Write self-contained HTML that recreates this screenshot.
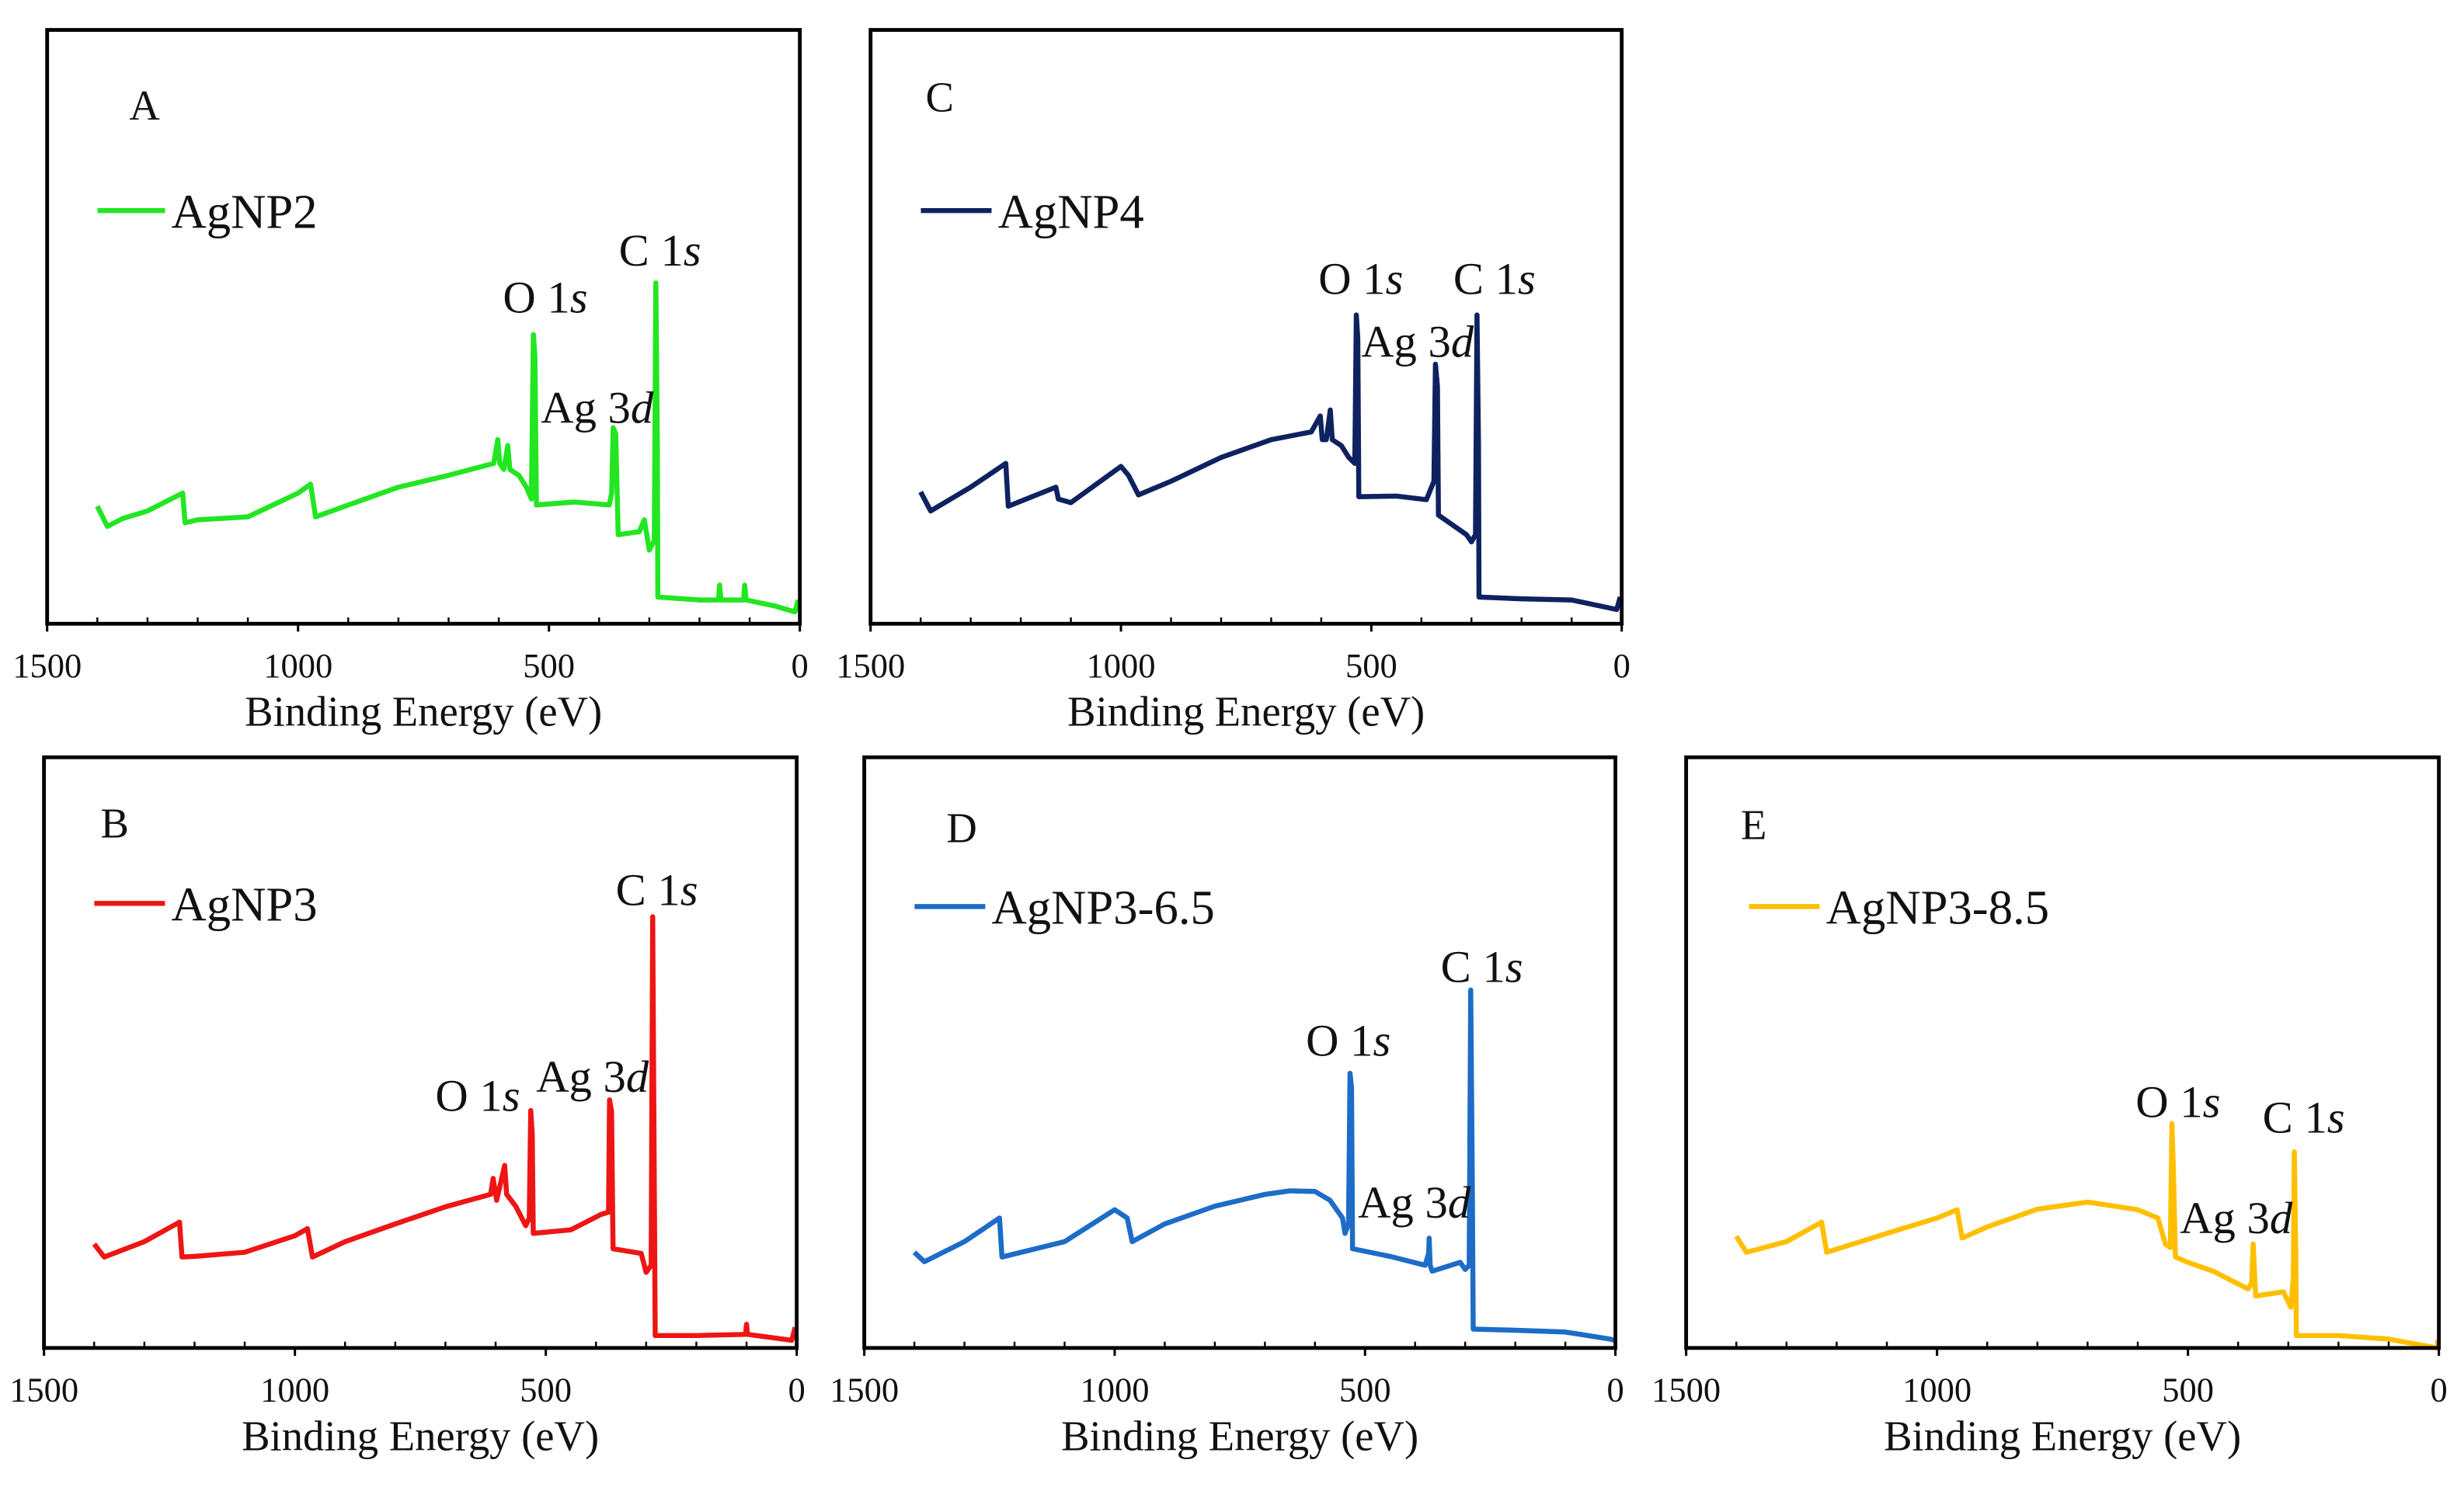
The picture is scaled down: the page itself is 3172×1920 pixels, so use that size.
<!DOCTYPE html>
<html><head><meta charset="utf-8">
<style>
html,body{margin:0;padding:0;background:#fff;}
svg{display:block;}
text{font-family:"Liberation Serif","DejaVu Serif",serif;fill:#111;}
</style></head>
<body>
<svg id="fig" width="3172" height="1920" viewBox="0 0 1568 949" xmlns="http://www.w3.org/2000/svg"></svg>
<script>
// Binding energies (eV) and intensities (% of plot height) per panel
const energyA = [1400,1380,1350,1300,1230,1225,1200,1100,1000,975,965,900,800,700,610,602,598,590,582,578,560,545,535,531,528,525,450,380,375,372,367,362,320,310,300,290,287,284,283,200,162,160,157,112,110,107,50,10,3];
const intensityA = [19.8,16.4,17.7,19,22,17,17.5,18,22,23.5,18,20,23,25,27,31,27,26,30,26,25,23,21,48.7,45,20,20.5,20,22,33,32,15,15.5,17.5,12.4,14,57.4,30,4.5,4,4,6.5,4,4,6.5,4,3,2,4];
const energyB = [1400,1380,1300,1230,1225,1200,1100,1000,975,965,900,800,700,610,605,598,582,578,560,540,533,530,527,525,450,390,375,373,369,366,310,300,290,287,284,282,200,102,100,98,10,3];
const intensityB = [17.6,15.4,18,21.3,15.4,15.5,16.2,19,20.2,15.4,18,21,23.9,26,28.7,25,30.9,26,24,20.7,22,40.2,36,19.4,20,22.6,23,42,40,16.8,16,12.8,14,73,30,2.1,2.1,2.3,4,2.3,1.3,3.5];
const energyC = [1400,1380,1300,1230,1225,1130,1125,1100,1000,985,965,900,800,700,620,602,598,590,582,578,560,545,533,530,527,525,450,390,375,372,368,366,310,300,292,289,286,285,200,100,10,3];
const intensityC = [22.2,19,23,27,19.8,23,21,20.4,26.5,25,21.7,24,28,31,32.3,35,31,31,36,31,30,28,27,52,48,21.4,21.5,20.9,24,43.7,40,18.3,15,13.8,15,52,30,4.5,4.2,4,2.4,4.5];
const energyD = [1400,1380,1300,1230,1225,1100,1000,975,965,900,800,700,650,600,570,545,540,533,530,527,525,450,380,373,372,370,366,310,300,292,289,286,284,200,100,10,3];
const intensityD = [16.2,14.6,18,22,15.4,18,23.4,22,18,21,24,26,26.6,26.5,25,22,19.4,21,46.5,44,16.8,15.5,14,16,18.6,14,13,14.5,13.3,14,60.6,30,3.2,3,2.7,1.5,1.3];
const energyE = [1400,1380,1300,1230,1220,1100,1000,960,950,900,800,700,600,560,545,535,532,529,525,500,450,380,373,370,367,365,310,295,290,288,285,284,200,100,3,2];
const intensityE = [18.9,16.2,18,21.3,16.2,19.4,22,23.4,18.6,20.5,23.5,24.7,23.4,22,17.6,17,38,30,15.4,14.5,13,10,11,17.6,12,8.8,9.5,6.9,12,33.2,15,2.1,2.1,1.5,0,1.3];
const xTickLabels = ["1500","1000","500","0"];
const xTickValues = [1500,1000,500,0];

const panels = [
 {id:'a',letter:'A',name:'AgNP2',color:'#22e622',E:energyA,I:intensityA,x0:30,x1:509,y0:19,y1:397,
  letterPos:[92,76],leg:[62,105,134],labels:[['O 1','s',347,199],['C 1','s',420,169],['Ag 3','d',380,269]]},
 {id:'c',letter:'C',name:'AgNP4',color:'#0f2260',E:energyC,I:intensityC,x0:554,x1:1032,y0:19,y1:397,
  letterPos:[598,71],leg:[586,631,134],labels:[['O 1','s',866,187],['C 1','s',951,187],['Ag 3','d',902,227]]},
 {id:'b',letter:'B',name:'AgNP3',color:'#ee1515',E:energyB,I:intensityB,x0:28,x1:507,y0:482,y1:858,
  letterPos:[73,533],leg:[60,105,575],labels:[['O 1','s',304,707],['C 1','s',418,576],['Ag 3','d',377,695]]},
 {id:'d',letter:'D',name:'AgNP3-6.5',color:'#1c6cc8',E:energyD,I:intensityD,x0:550,x1:1028,y0:482,y1:858,
  letterPos:[612,536],leg:[582,627,577],labels:[['O 1','s',858,672],['C 1','s',943,625],['Ag 3','d',900,775]]},
 {id:'e',letter:'E',name:'AgNP3-8.5',color:'#ffbf00',E:energyE,I:intensityE,x0:1073,x1:1552,y0:482,y1:858,
  letterPos:[1116,534],leg:[1113,1158,577],labels:[['O 1','s',1386,711],['C 1','s',1466,721],['Ag 3','d',1423,785]]}
];
const NS='http://www.w3.org/2000/svg';
const svg=document.getElementById('fig');
function mk(tag,attrs,parent){const e=document.createElementNS(NS,tag);for(const k in attrs)e.setAttribute(k,attrs[k]);(parent||svg).appendChild(e);return e;}
panels.forEach(p=>{
  const g=mk('g',{});
  
  
  const xs=e=>p.x1-(e/1500)*(p.x1-p.x0);
  const ys=v=>p.y1-(v/100)*(p.y1-p.y0);
  let d='';
  p.E.forEach((e,i)=>{d+=(i?'L':'M')+xs(e).toFixed(2)+','+ys(p.I[i]).toFixed(2);});
  const path=mk('path',{d:d,fill:'none',stroke:p.color,'stroke-width':3.2,'stroke-linejoin':'round'},g);
  
  
  const fr=mk('rect',{x:p.x0,y:p.y0,width:p.x1-p.x0,height:p.y1-p.y0,fill:'none',stroke:'#000','stroke-width':2.4},g);
  
  
  for(let e=1400;e>0;e-=100){if(e%500===0)continue;
    const t=mk('line',{x1:xs(e),x2:xs(e),y1:p.y1,y2:p.y1-4,stroke:'#000','stroke-width':1.2},g);
    
    }
  xTickValues.forEach((v,i)=>{
    const t=mk('line',{x1:xs(v),x2:xs(v),y1:p.y1,y2:p.y1+5,stroke:'#000','stroke-width':1.5},g);
    
    
    const tx=mk('text',{x:xs(v),y:p.y1+34,'font-size':22,'text-anchor':'middle'},g);
    tx.textContent=xTickLabels[i];
    
    
  });
  const at=mk('text',{x:(p.x0+p.x1)/2,y:p.y1+65,'font-size':27,'text-anchor':'middle'},g);
  at.textContent='Binding Energy (eV)';
  
  
  const lt=mk('text',{x:p.letterPos[0],y:p.letterPos[1],'font-size':27,'text-anchor':'middle'},g);
  lt.textContent=p.letter;
  
  
  const lg=mk('g',{},g);
  
  
  mk('line',{x1:p.leg[0],x2:p.leg[1],y1:p.leg[2],y2:p.leg[2],stroke:p.color,'stroke-width':3.2},lg);
  const ltx=mk('text',{x:p.leg[1]+4,y:p.leg[2]+11,'font-size':31},lg);
  ltx.textContent=p.name;
  p.labels.forEach(l=>{
    const t=mk('text',{x:l[2],y:l[3],'font-size':29,'text-anchor':'middle'},g);
    
    
    const a=mk('tspan',{},t);a.textContent=l[0];
    const b=mk('tspan',{'font-style':'italic'},t);b.textContent=l[1];
  });
});
</script>
</body></html>
